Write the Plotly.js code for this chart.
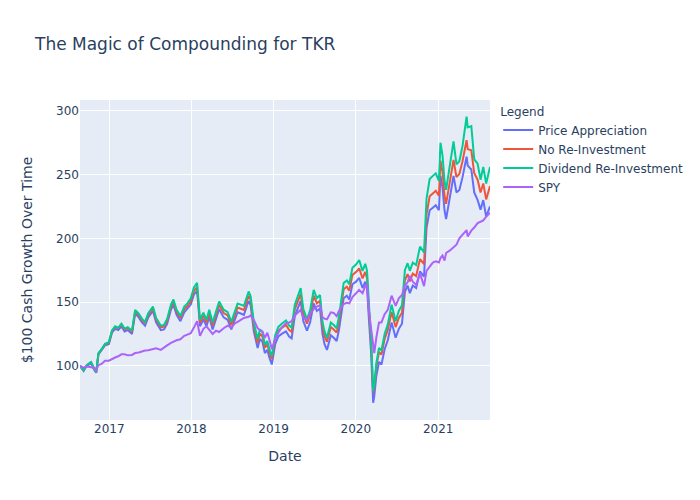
<!DOCTYPE html>
<html>
<head>
<meta charset="utf-8">
<script src="https://cdn.plot.ly/plotly-3.0.1.min.js"></script>
<style>html,body{margin:0;padding:0;background:#fff;}</style>
</head>
<body>
<div id="chart" style="width:700px;height:500px;"></div>
<script>
const dates = ["2016-08-24","2016-09-09","2016-09-23","2016-10-12","2016-10-26","2016-11-04","2016-11-14","2016-11-28","2016-12-13","2016-12-30",
"2017-01-13","2017-01-27","2017-02-10","2017-02-24","2017-03-10","2017-03-24","2017-04-12","2017-04-26","2017-05-12","2017-05-26",
"2017-06-09","2017-06-23","2017-07-14","2017-07-28","2017-08-18","2017-09-01","2017-09-15","2017-10-02","2017-10-13","2017-10-27",
"2017-11-13","2017-11-30","2017-12-14","2017-12-29","2018-01-12","2018-01-26","2018-02-08","2018-02-23","2018-03-09","2018-03-21",
"2018-04-05","2018-04-20","2018-05-04","2018-05-24","2018-06-11","2018-06-27","2018-07-11","2018-07-25","2018-08-08","2018-08-22",
"2018-09-12","2018-09-21","2018-10-05","2018-10-22","2018-11-01","2018-11-12","2018-11-23","2018-12-04","2018-12-14","2018-12-24",
"2019-01-08","2019-01-22","2019-02-06","2019-02-25","2019-03-11","2019-03-22","2019-04-05","2019-04-18","2019-05-01","2019-05-13",
"2019-05-29","2019-06-12","2019-06-28","2019-07-12","2019-07-26","2019-08-06","2019-08-15","2019-08-26","2019-09-12","2019-09-25",
"2019-10-08","2019-10-18","2019-10-31","2019-11-08","2019-11-22","2019-12-03","2019-12-17","2020-01-02","2020-01-16","2020-01-31",
"2020-02-12","2020-02-20","2020-02-28","2020-03-09","2020-03-18","2020-03-23","2020-04-01","2020-04-13","2020-04-24","2020-05-08",
"2020-05-22","2020-06-08","2020-06-26","2020-07-10","2020-07-24","2020-08-06","2020-08-18","2020-08-28","2020-09-10","2020-09-25",
"2020-10-12","2020-10-30","2020-11-10","2020-11-24","2020-12-08","2020-12-21","2021-01-04","2021-01-11","2021-01-20","2021-01-29",
"2021-02-05","2021-02-22","2021-03-10","2021-03-23","2021-04-05","2021-04-19","2021-05-07","2021-05-12","2021-05-28","2021-06-10",
"2021-06-25","2021-07-08","2021-07-20","2021-08-02","2021-08-19"];

const priceAppreciation = [100,96,100,102,97,94.5,109,112,116,117,
126,129,128,131,127,128,125,141,138,134,
131.5,138,143,134,128,128.5,133,144,148,140,
135,142,144.5,148,156,159,131,136.5,131,138.5,
128.5,136,144.5,138,136,128.5,135,142,141,140,
151,147.5,127,114,121,119,110,112.5,106,101,
117,123,125,127,123,121.5,139,145,151,135,
127.5,134,149,143,145,125,117,112.5,124,122,
119.5,128,142,153,155,152,164,166,169,161,
166,161,137,110,71,76,92,103,101,113,
120,134,122,129,133,158,163,157,163,161,
174,170,208,222,224,226,222,249,240,222,
215,232,249,236,238,248,264,257,254,236,
230,222.5,230,217,225];

const noReinvestment = [100,96.3,100.5,102.8,97.6,95,109.8,112.8,117,118,
127.2,130.3,129.5,132.5,128.5,129.6,126.6,142.8,139.8,135.8,
133.5,140,145,136,130.2,130.7,135.2,146.3,150.3,142.4,
137.5,144.5,147,150.6,158.7,161.8,133.8,139.4,134,141.5,
131.6,139.2,147.8,141.4,139.5,132,138.6,145.7,144.8,143.8,
155,151.5,131,118,125,123.2,114.3,116.8,110.3,105.3,
121.5,127.7,129.8,132,128,126.6,144.3,150.4,156.5,140.6,
133,139.8,155,149,151,131.2,123.2,118.8,130.4,128.5,
126,134.6,148.7,160,162,159,171.3,173.5,176.5,168.5,
173.7,168.6,144.5,117.5,79,83,99.5,110.8,108.8,121,
128.2,142.3,130.4,137.5,141.6,167,172,166.2,172.3,170.4,
183.7,179.8,218.6,233,235.2,237.3,233.5,261,252,233.6,
227,244,261.5,248,250.5,260.5,277,270,269,251,
246,236,243,230.5,241];

const dividendReinvestment = [100,96.5,100.5,103,97.8,95.3,110,113,117.3,118.5,
127.8,131,130,133,129.2,130.3,127.5,143.8,141,137,
134.5,141.3,146.5,137.5,131.5,132,136.8,148,152,144,
139,146.5,149,153,161.5,165,136,141.7,136,144,
134,141.7,150.5,144,142,134.5,141.5,148.8,148,147,
158.3,154.5,134,121,128.5,126.5,116.5,119.5,112.5,107.5,
124,130.5,133,135.5,131.5,130,148,154.5,161,144.5,
136.5,143.5,159.5,153,155.5,134.5,127,122,134,132,
129.5,138.5,153,165,167,164,177,179.5,183,174.5,
180,174.5,149,121,80,84.5,102,114,112,125,
132.5,148,135,143,147.5,175,180.5,174.5,181,179,
193.5,189,231,246.5,249,251,245,275,265,245,
238,256,276,258,260.5,272.5,295.5,287,288,262,
258.5,246,256,243,256];

const spy = [100,98.5,99.5,99,98.5,96.8,100.5,101.5,104,104,
105.5,106.5,107.5,109,109,108.2,108.5,110,110.5,111.5,
112,112.3,113.5,113.8,112.5,114.5,116,118,119,120,
120.8,123.5,124.5,125.5,130,135,123.5,129,131,128.5,
125,127.5,126.5,129.5,131.5,130,133,134.5,136,137.5,
138.5,139.5,136,129.5,128,127,122,126,120,113,
121,126,130,133.5,134,135,139.5,141.5,144,137.5,
136,141,144.5,146.5,147.5,138,137,136.5,142,141.5,
139,143,146,148.5,149.5,149,154,157,159.5,157,
162.5,163.5,143.5,129,114,110,122,134,134,140.5,
144,155,147,153,155.5,163,165.5,170.5,166,163.5,
172.5,162.5,174.5,178,181,182,181,184.5,186.5,182.5,
188.5,190.5,193,195,200,203,206.5,201.5,206,208.5,
212,213,214,217,220];

const seriesNames = ["Price Appreciation","No Re-Investment","Dividend Re-Investment","SPY"];
const seriesColors = ["#636efa","#EF553B","#00cc96","#ab63fa"];
const seriesValues = [priceAppreciation, noReinvestment, dividendReinvestment, spy];

const traces = seriesValues.map((vals, i) => ({
  type: "scatter",
  mode: "lines",
  x: dates,
  y: vals,
  name: seriesNames[i],
  line: {color: seriesColors[i], width: 2}
}));

const layout = {
  width: 700,
  height: 500,
  paper_bgcolor: "#ffffff",
  plot_bgcolor: "#E5ECF6",
  font: {family: "'DejaVu Sans', verdana, arial, sans-serif", color: "#2a3f5f", size: 12},
  title: {text: "The Magic of Compounding for TKR", x: 0.05, font: {size: 17, color: "#2a3f5f"}},
  margin: {l: 80, r: 80, t: 100, b: 80},
  xaxis: {
    title: {text: "Date", font: {size: 14}, standoff: 16},
    type: "date",
    gridcolor: "white", linecolor: "white", zerolinecolor: "white",
    ticks: "", showline: false
  },
  yaxis: {
    title: {text: "$100 Cash Growth Over Time", font: {size: 14}, standoff: 20},
    range: [57.5, 308.5],
    gridcolor: "white", linecolor: "white", zerolinecolor: "white", zerolinewidth: 2,
    ticks: "", showline: false
  },
  legend: {title: {text: "Legend", font: {size: 12}}, font: {size: 12}, tracegroupgap: 0},
  showlegend: true
};

Plotly.newPlot("chart", traces, layout, {displayModeBar: false});
</script>
</body>
</html>
